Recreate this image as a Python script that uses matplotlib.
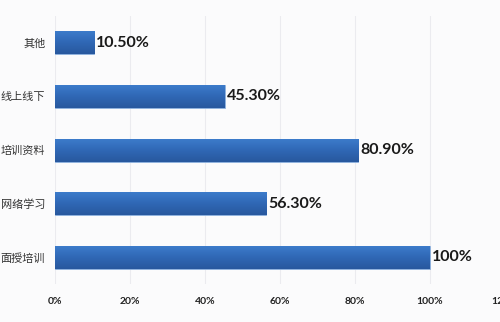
import matplotlib.pyplot as plt
import numpy as np
from matplotlib.ticker import FuncFormatter
from matplotlib.colors import LinearSegmentedColormap

plt.rcParams['font.family'] = ['Noto Sans CJK SC', 'DejaVu Sans']

# Survey: preferred training channels (share of respondents)
categories = ['面授培训', '网络学习', '培训资料', '线上线下', '其他']
values = [1.00, 0.563, 0.809, 0.453, 0.105]
value_labels = ['100%', '56.30%', '80.90%', '45.30%', '10.50%']
xticks = [0, 0.2, 0.4, 0.6, 0.8, 1.0, 1.2]

fig = plt.figure(figsize=(5, 3.22), dpi=100, facecolor='#fbfbfc')
ax = fig.add_axes([0.11, 0.118, 0.90, 0.832])
ax.set_facecolor('#fbfbfc')

y = np.arange(len(categories))
bars = ax.barh(y, values, height=0.43, color='#3470bd', edgecolor='#8fb2de', linewidth=0.6, zorder=2)

# vertical gradient fill on each bar (lighter top, darker bottom)
grad = np.linspace(0, 1, 64).reshape(-1, 1)
cmap = LinearSegmentedColormap.from_list('bar', ['#3d7dcc', '#3068b6', '#28589e'])
for b in bars:
    x0, y0 = b.get_x(), b.get_y()
    w, h = b.get_width(), b.get_height()
    im = ax.imshow(grad, cmap=cmap, aspect='auto', extent=(x0, x0 + w, y0, y0 + h),
                   origin='upper', zorder=3)
    im.set_clip_path(b)

for yi, v, lab in zip(y, values, value_labels):
    ax.text(v + 0.005, yi, lab, va='center', ha='left', fontsize=11.5,
            fontweight='bold', color='#1a1a1a', family='Lato', zorder=4)

ax.set_xlim(0, 1.2)
ax.set_ylim(-0.5, 4.5)
ax.set_yticks(y)
ax.set_yticklabels(categories, fontsize=8, color='#333333')
ax.set_xticks(xticks)
ax.xaxis.set_major_formatter(FuncFormatter(lambda v, p: f'{v * 100:.0f}%'))
for t in ax.get_xticklabels():
    t.set_fontweight('bold')
    t.set_fontsize(7.5)
    t.set_color('#222222')
    t.set_family('Lato')
ax.tick_params(axis='x', length=0, pad=9)
ax.tick_params(axis='y', length=0, pad=7)
ax.grid(axis='x', color='#ebebef', linewidth=0.8, zorder=0)
for s in ax.spines.values():
    s.set_visible(False)

fig.savefig('out.png', dpi=100, facecolor=fig.get_facecolor())
